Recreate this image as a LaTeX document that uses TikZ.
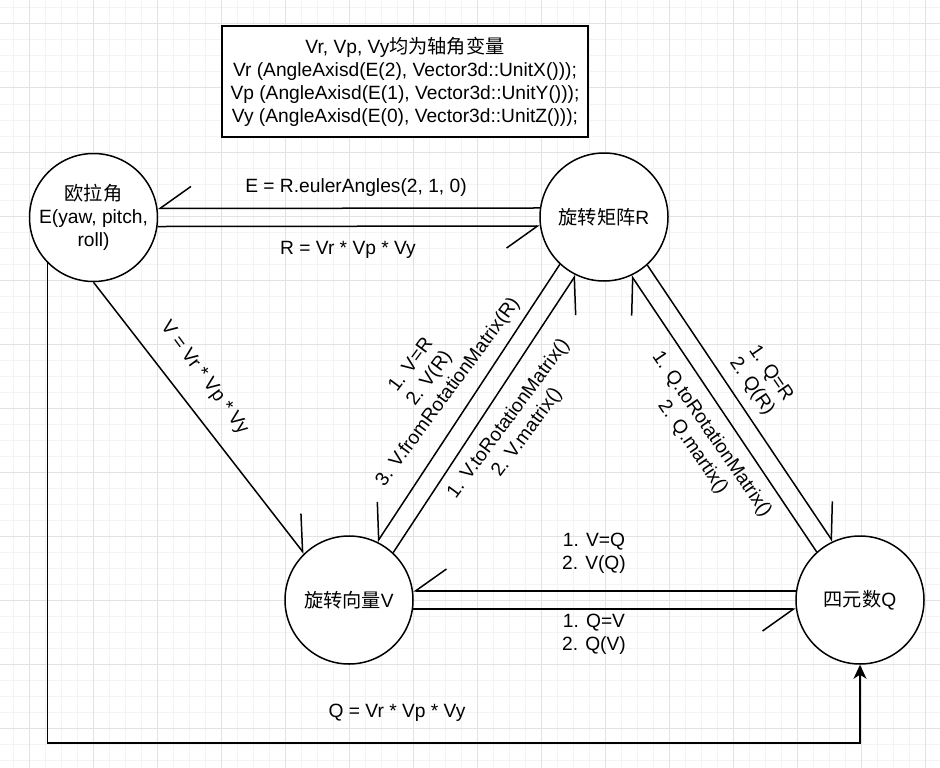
\documentclass[tikz,border=0pt]{standalone}
\usepackage{fontspec}
\setmainfont{Liberation Sans}
\newfontfamily\cjk{Noto Sans CJK SC}
\usepackage{tikz}
\usetikzlibrary{arrows.meta}
\definecolor{gridmajor}{HTML}{E2E2E2}
\definecolor{gridminor}{HTML}{F3F3F3}
\tikzset{
every node/.style={font=\fontsize{19.2}{23}\selectfont}, % one text size everywhere
conv/.style={circle, draw, fill=white, line width=1.5pt, minimum size=128pt, inner sep=0pt, align=center}, % the four representations
link/.style={line width=1.5pt}, % every connector
halfR/.style={link, -{Straight Barb[right, length=31pt, width=44pt]}}, % one-sided open head
halfL/.style={link, -{Straight Barb[left, length=31pt, width=44pt]}},
lbl/.style={align=center, inner sep=0pt}, % connector texts
}

\begin{document}
\begin{tikzpicture}[x=1pt, y=-1pt]
		\useasboundingbox (0,0) rectangle (940,768);
		% background grid
		\foreach \gx in {13,29,...,940} \draw[gridminor, line width=1pt] (\gx,0) -- (\gx,768);
		\foreach \gy in {8,24,...,768} \draw[gridminor, line width=1pt] (0,\gy) -- (940,\gy);
		\foreach \gx in {29,93,...,940} \draw[gridmajor, line width=1pt] (\gx,0) -- (\gx,768);
		\foreach \gy in {24,88,...,768} \draw[gridmajor, line width=1pt] (0,\gy) -- (940,\gy);

		\node[draw, fill=white, line width=1.5pt, minimum width=366pt, minimum height=111pt, align=center] (note) at (405,81.5)
			{Vr, Vp, Vy{\cjk 均为轴角变量}\\Vr (AngleAxisd(E(2), Vector3d::UnitX()));\\Vp (AngleAxisd(E(1), Vector3d::UnitY()));\\Vy (AngleAxisd(E(0), Vector3d::UnitZ()));};

		\node[conv] (E) at (93.5,217.5) {{\cjk 欧拉角}\\E(yaw, pitch,\\roll)};
		\node[conv] (R) at (604,217) {{\cjk 旋转矩阵}R};
		\node[conv] (V) at (349,600) {{\cjk 旋转向量}V};
		\node[conv] (Q) at (860,600) {{\cjk 四元数}Q};
		\coordinate (qfoot) at (860,743);

		\draw[halfR] (R.172) -- (E.8);
		\draw[halfR] (E.-8) -- (R.188);
		\draw[halfR] (R.227.85) -- (V.64.85);
		\draw[halfR] (V.47.85) -- (R.244.85);
		\draw[halfL] (Q.132.3) -- (R.295.3);
		\draw[halfL] (R.312.3) -- (Q.115.3);
		\draw[halfR] (Q.172) -- (V.8);
		\draw[halfR] (V.-8) -- (Q.188);
		\draw[halfL] (E.south) -- (V.134);
		\draw[link, -{Stealth[length=14pt, width=13pt, inset=4pt]}] (E.south west) |- (qfoot) -- (Q.south);

		\node[lbl] (erl) at (356,188) {E = R.eulerAngles(2, 1, 0)};
		\node[lbl] (rel) at (348,250) {R = Vr * Vp * Vy};
		\node[lbl, rotate=-53.5] (evl) at (204,378) {V = Vr * Vp * Vy};
		\node[lbl, rotate=53.6] (vrl) at (430,379) {1. V=R\\2. V(R)\\3. V.fromRotationMatrix(R)};
		\node[lbl, rotate=53.6] (rvl) at (518,426) {1. V.toRotationMatrix()\\2. V.matrix()};
		\node[lbl, rotate=-55.5] (qrl) at (761,380) {1. Q=R\\2. Q(R)};
		\node[lbl, rotate=-55.5] (rql) at (702,441) {1. Q.toRotationMatrix()\\2. Q.martix()};
		\node[lbl] (vql) at (594,553) {1. V=Q\\2. V(Q)};
		\node[lbl] (qvl) at (594,634) {1. Q=V\\2. Q(V)};
		\node[lbl] (eql) at (397,713) {Q = Vr * Vp * Vy};
	\end{tikzpicture}
\end{document}
